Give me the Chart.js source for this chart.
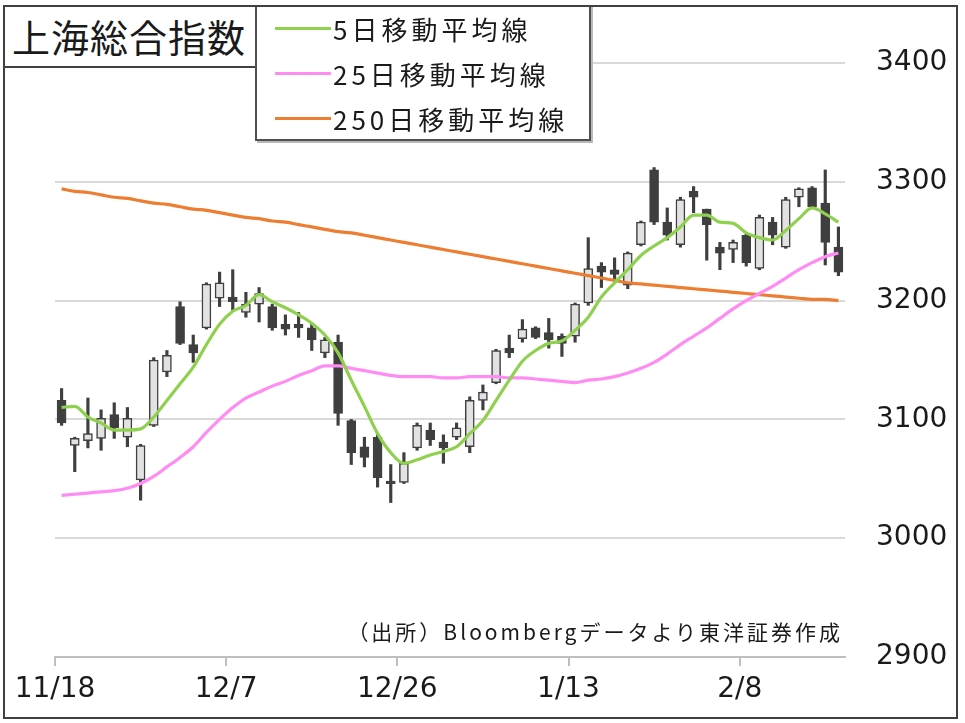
<!DOCTYPE html>
<html lang="ja">
<head>
<meta charset="utf-8">
<title>上海総合指数</title>
<script src="https://cdn.jsdelivr.net/npm/chart.js@4"></script>
<style>
  html, body { margin: 0; padding: 0; background: #fff; }
  #wrap { position: relative; width: 965px; height: 723px; overflow: hidden; }
  #chart { position: absolute; left: 0; top: 0; }
  .frame { position: absolute; left: 3px; top: 5px; width: 955px; height: 714px; border: 2px solid #404040; box-sizing: border-box; pointer-events: none; }
  .title { position: absolute; left: 3px; top: 5px; width: 254px; height: 63px; box-sizing: border-box; border: 2px solid #404040; background: #fff;
           font: 38px "Noto Sans CJK JP"; letter-spacing: 1px; line-height: 58px; padding-left: 7px; color: #1a1a1a; white-space: nowrap; }
  .legend { position: absolute; left: 255px; top: 5px; width: 336px; height: 136px; box-sizing: border-box; border: 2px solid #505050; background: #fff; box-shadow: 2px 2px 0 #b8b8b8; }
  .legend .row { position: absolute; left: 0; height: 45px; display: flex; align-items: center; white-space: nowrap; }
  .legend .sw { width: 56px; height: 3px; margin-left: 18px; }
  .legend .lbl { font: 26px "Noto Sans CJK JP"; letter-spacing: 4px; color: #1a1a1a; margin-left: 2px; }
  .note { position: absolute; right: 122px; top: 616px; font: 21px "Noto Sans CJK JP"; letter-spacing: 3px; color: #1a1a1a; white-space: nowrap; }
</style>
</head>
<body>
<div id="wrap">
  <canvas id="chart" width="965" height="723"></canvas>
  <div class="title">上海総合指数</div>
  <div class="legend" id="legend"></div>
  <div class="note">（出所）Bloombergデータより東洋証券作成</div>
  <div class="frame"></div>
</div>
<script>
// 日足（11/18〜2/17、60営業日）
const tickLabels = ['11/18', '12/7', '12/26', '1/13', '2/8'];
const tickIndex = [0, 13, 26, 39, 52];

const open = [3116, 3078, 3082, 3084, 3104, 3085, 3049, 3095, 3140, 3195,
  3163, 3177, 3202, 3203, 3190, 3197, 3195, 3180, 3180, 3177,
  3156, 3165, 3099, 3077, 3085, 3048, 3047, 3076, 3091, 3081,
  3085, 3077, 3116, 3131, 3160, 3168, 3177, 3173, 3170, 3170,
  3198, 3229, 3226, 3213, 3247, 3310, 3266, 3247, 3292, 3277,
  3245, 3243, 3255, 3227, 3266, 3245, 3287, 3295, 3282, 3245];
const high = [3126, 3085, 3118, 3108, 3114, 3110, 3079, 3152, 3158, 3199,
  3171, 3215, 3224, 3226, 3207, 3211, 3197, 3188, 3190, 3180,
  3169, 3171, 3100, 3085, 3087, 3062, 3072, 3097, 3097, 3087,
  3097, 3119, 3129, 3159, 3171, 3184, 3178, 3185, 3172, 3198,
  3253, 3232, 3236, 3241, 3267, 3312, 3278, 3287, 3296, 3277,
  3249, 3251, 3256, 3272, 3270, 3287, 3295, 3296, 3310, 3262];
const low = [3095, 3056, 3076, 3074, 3084, 3077, 3032, 3094, 3136, 3163,
  3148, 3176, 3195, 3192, 3186, 3182, 3175, 3171, 3169, 3158,
  3152, 3095, 3062, 3060, 3043, 3030, 3046, 3074, 3078, 3063,
  3083, 3072, 3108, 3130, 3152, 3165, 3168, 3160, 3153, 3165,
  3196, 3211, 3216, 3210, 3246, 3264, 3251, 3245, 3274, 3234,
  3226, 3232, 3229, 3226, 3247, 3244, 3279, 3278, 3230, 3221];
const close = [3097, 3084, 3088, 3101, 3093, 3101, 3078, 3150, 3154, 3164,
  3156, 3214, 3215, 3199, 3197, 3206, 3177, 3176, 3177, 3167,
  3167, 3105, 3072, 3068, 3051, 3046, 3063, 3095, 3083, 3076,
  3093, 3116, 3123, 3158, 3156, 3176, 3169, 3167, 3164, 3197,
  3227, 3224, 3222, 3240, 3266, 3266, 3255, 3285, 3287, 3264,
  3240, 3249, 3232, 3270, 3255, 3285, 3294, 3279, 3249, 3224];

const ma5 = [3110, 3111, 3102, 3097, 3091, 3091, 3092, 3102, 3116, 3130,
  3144, 3163, 3180, 3191, 3196, 3205, 3199, 3194, 3188, 3181,
  3171, 3156, 3133, 3111, 3088, 3072, 3063, 3066, 3070, 3073,
  3077, 3088, 3099, 3116, 3133, 3149, 3158, 3164, 3166, 3175,
  3186, 3203, 3215, 3226, 3238, 3246, 3253, 3262, 3272, 3272,
  3266, 3265, 3257, 3253, 3251, 3259, 3269, 3278, 3273, 3266];
const ma25 = [3036, 3037, 3038, 3039, 3040, 3042, 3046, 3052, 3060, 3068,
  3077, 3089, 3100, 3110, 3118, 3123, 3128, 3132, 3137, 3141,
  3145, 3145, 3143, 3141, 3139, 3137, 3136, 3136, 3136, 3135,
  3135, 3136, 3136, 3136, 3135, 3135, 3134, 3133, 3132, 3131,
  3133, 3134, 3136, 3139, 3143, 3148, 3155, 3163, 3170, 3177,
  3185, 3193, 3200, 3206, 3212, 3219, 3226, 3232, 3237, 3240];
const ma250 = [3294, 3292, 3291, 3289, 3287, 3286, 3284, 3282, 3281, 3279,
  3277, 3276, 3274, 3272, 3270, 3269, 3267, 3266, 3264, 3262,
  3260, 3258, 3257, 3255, 3253, 3251, 3249, 3247, 3245, 3243,
  3241, 3239, 3237, 3235, 3233, 3231, 3229, 3227, 3225, 3223,
  3221, 3219, 3217, 3215, 3214, 3213, 3212, 3211, 3210, 3209,
  3208, 3207, 3206, 3205, 3204, 3203, 3202, 3201, 3201, 3200];

const DARK = '#3f3f3f';
const LIGHT = '#e2e2e2';
const font = { family: 'DejaVu Sans', size: 28 };

const pts = arr => arr.map((y, i) => ({ x: i, y }));
const wickData = close.map((_, i) => ({ x: i, y: [low[i], high[i]] }));
const bodyData = close.map((_, i) => ({ x: i, y: [open[i], close[i]] }));
const bodyFill = close.map((c, i) => c >= open[i] ? LIGHT : DARK);

const line = (label, data, color, order) => ({
  type: 'line', label, data: pts(data), borderColor: color, backgroundColor: color,
  borderWidth: 3.2, pointRadius: 0, tension: 0.4, cubicInterpolationMode: 'monotone', order,
});

const chart = new Chart(document.getElementById('chart'), {
  type: 'bar',
  data: {
    datasets: [
      line('5日移動平均線', ma5, '#8fd14f', 0),
      line('25日移動平均線', ma25, '#ff8cf2', 1),
      line('250日移動平均線', ma250, '#ed7d31', 2),
      { label: 'body', data: bodyData, backgroundColor: bodyFill, borderColor: DARK, borderWidth: 1.5,
        borderSkipped: false, barThickness: 9, grouped: false, order: 3 },
      { label: 'wick', data: wickData, backgroundColor: DARK, borderWidth: 0,
        barThickness: 2.5, grouped: false, order: 4 },
    ],
  },
  options: {
    responsive: false,
    animation: false,
    layout: { padding: { left: 55, top: 63, right: 0, bottom: 0 } },
    plugins: { legend: { display: false }, tooltip: { enabled: false } },
    scales: {
      x: {
        type: 'linear', min: -0.5, max: 59.5, offset: false,
        afterBuildTicks: s => { s.ticks = tickIndex.map(v => ({ value: v - 0.5 })); },
        afterFit: s => { s.height = 66; },
        ticks: { autoSkip: false, maxRotation: 0, padding: 7, color: '#1a1a1a', font,
                 callback: (v, i) => tickLabels[i] },
        grid: { display: true, drawOnChartArea: false, drawTicks: true, tickLength: 9,
                color: '#bfbfbf', lineWidth: 2, offset: false },
        border: { display: true, color: '#bfbfbf', width: 2 },
      },
      y: {
        position: 'right', min: 2900, max: 3400, beginAtZero: false,
        afterFit: s => { s.width = 120; },
        ticks: { stepSize: 100, padding: 31, color: '#1a1a1a', font, callback: v => String(v) },
        grid: { color: '#d9d9d9', lineWidth: 2, drawTicks: false },
        border: { display: false },
      },
    },
  },
});

// 凡例（折れ線3本）
const legend = document.getElementById('legend');
chart.data.datasets.filter(d => d.type === 'line').forEach((d, k) => {
  const row = document.createElement('div');
  row.className = 'row';
  row.style.top = (-1 + k * 45) + 'px';
  row.innerHTML = `<div class="sw" style="background:${d.borderColor}"></div><span class="lbl">${d.label}</span>`;
  legend.appendChild(row);
});
</script>
</body>
</html>
